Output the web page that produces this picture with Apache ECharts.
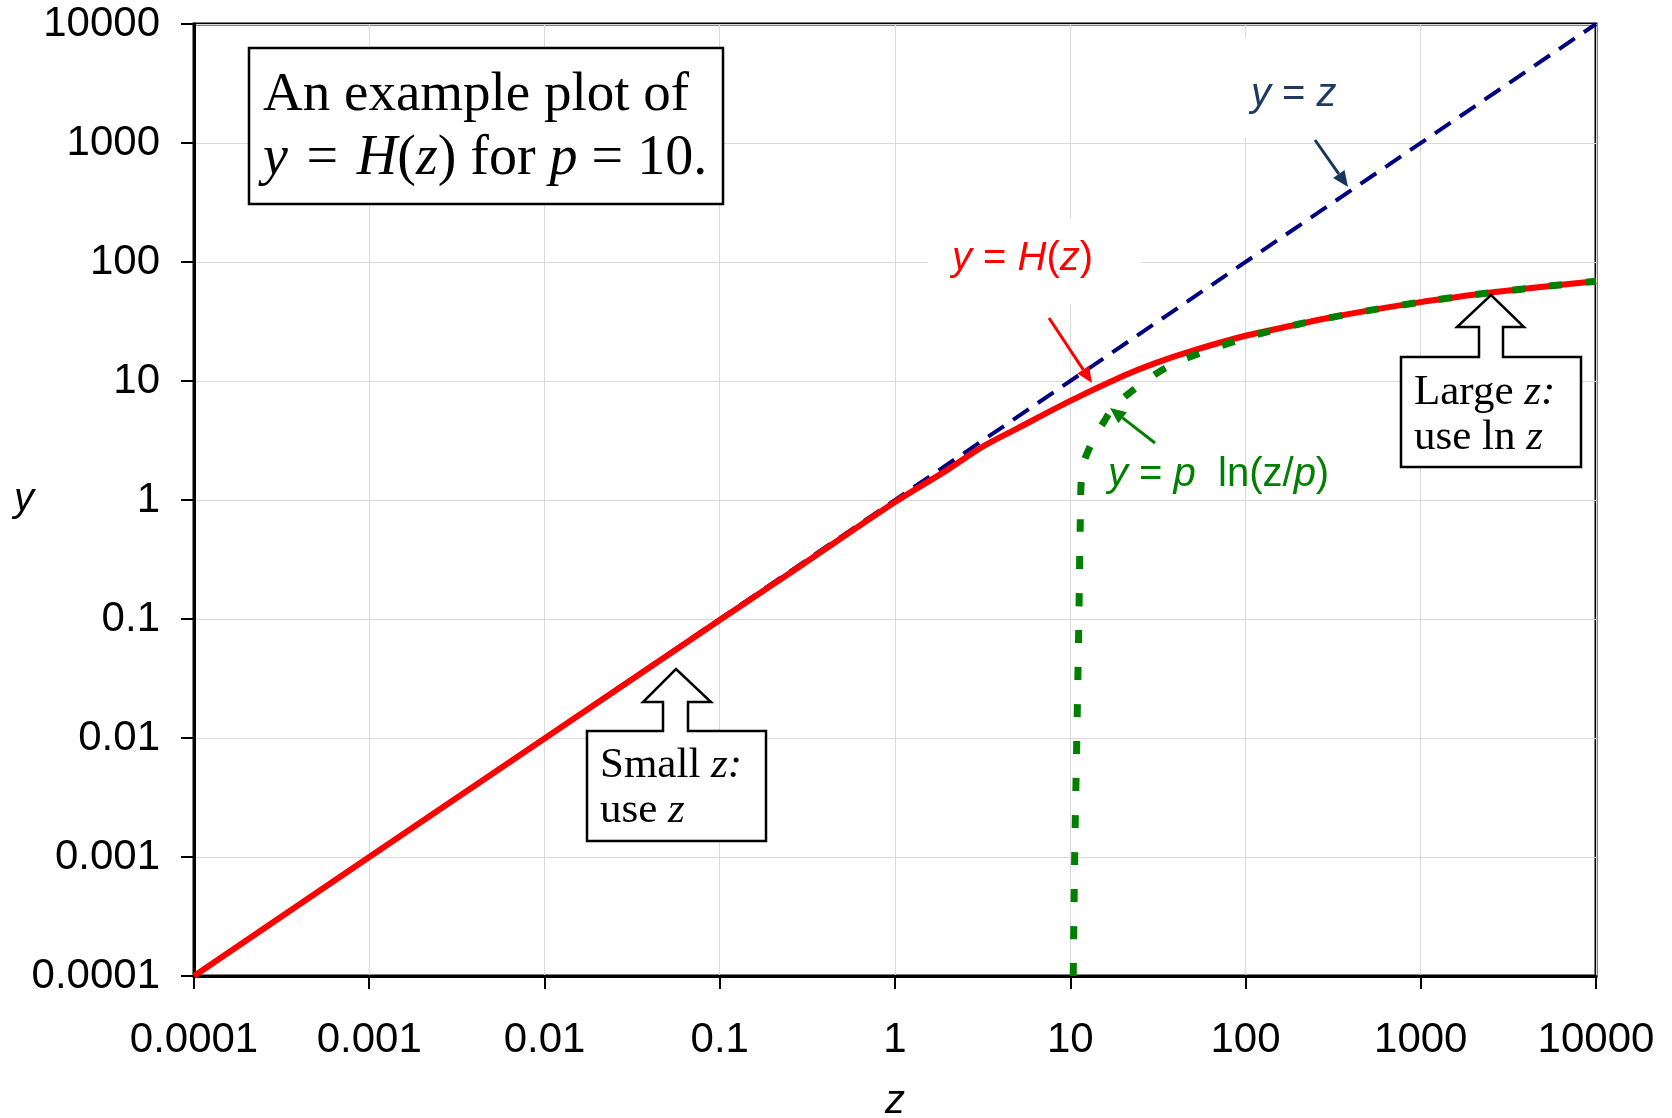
<!DOCTYPE html>
<html>
<head>
<meta charset="utf-8">
<title>y = H(z) for p = 10</title>
<script src="https://cdn.jsdelivr.net/npm/echarts@6/dist/echarts.min.js"></script>
<style>
	html, body { margin: 0; padding: 0; background: #ffffff; }
	#chart { width: 1672px; height: 1118px; }
</style>
</head>
<body>
<div id="chart"></div>
<script>
	// tick labels, one per decade
	var tickLabels = ['0.0001', '0.001', '0.01', '0.1', '1', '10', '100', '1000', '10000'];

	// y = z
	var idZ = [0.0001, 10000];
	var idY = [0.0001, 10000];

	// y = H(z)
	var hZ = [0.0001, 0.001, 0.01, 0.1, 0.3, 1, 2, 3.16, 5, 10, 20, 30, 50, 100, 200, 300, 500, 1000, 2000, 3000, 5000, 10000];
	var hY = [0.0001, 0.001, 0.0099, 0.098, 0.29, 0.96, 1.8, 2.8, 4.0, 6.8, 11, 14, 18, 24, 30, 34, 39, 46, 53, 57, 62, 69];

	// y = p ln(z/p)
	var lnZ = [10.4, 10.6, 10.9, 11.2, 11.4, 11.7, 13.5, 15.5, 18, 26.8, 41, 100, 200, 500, 1000, 2000, 5000, 10000];
	var lnY = [0.0001, 0.001, 0.01, 0.1, 0.6, 1.8, 3.2, 4.5, 6.2, 10, 14.5, 23, 30, 39, 46, 53, 62, 69];

	function pairs(xs, ys) {
		return xs.map(function(x, i) { return [x, ys[i]]; });
	}

	function decadeLabel(v) {
		return tickLabels[Math.round(Math.log10(v)) + 4];
	}

	function arrow(x1, y1, x2, y2, color) {
		var a = Math.atan2(y2 - y1, x2 - x1);
		var len = 16, half = 7;
		var bx = x2 - len * Math.cos(a), by = y2 - len * Math.sin(a);
		return [{
			type: 'line',
			shape: { x1: x1, y1: y1, x2: bx, y2: by },
			style: { stroke: color, lineWidth: 3 },
			z: 100
		}, {
			type: 'polygon',
			shape: { points: [[x2, y2],
				[bx + half * Math.sin(a), by - half * Math.cos(a)],
				[bx - half * Math.sin(a), by + half * Math.cos(a)]] },
			style: { fill: color },
			z: 100
		}];
	}

	var serif = '"Liberation Serif", "DejaVu Serif", serif';
	var sans = '"Liberation Sans", Arial, sans-serif';

	function serifText(x, y, text, size) {
		return {
			type: 'text', x: x, y: y, z: 102,
			style: {
				text: text, fill: '#000', fontFamily: serif, fontSize: size,
				verticalAlign: 'middle',
				rich: { i: { fontStyle: 'italic', fontFamily: serif, fontSize: size, fill: '#000' } }
			}
		};
	}

	function sansText(x, y, text, color) {
		return {
			type: 'text', x: x, y: y, z: 102,
			style: {
				text: text, fill: color, fontFamily: sans, fontSize: 40,
				verticalAlign: 'middle',
				rich: { i: { fontStyle: 'italic', fontFamily: sans, fontSize: 40, fill: color } }
			}
		};
	}

	var graphics = [
		// white patches behind the curve labels
		{ type: 'rect', shape: { x: 1185, y: 38, width: 193, height: 100 }, style: { fill: '#fff' }, z: 90 },
		{ type: 'rect', shape: { x: 928, y: 219, width: 213, height: 85 }, style: { fill: '#fff' }, z: 90 },

		// title box
		{ type: 'rect', shape: { x: 249, y: 48, width: 474, height: 156 },
		  style: { fill: '#fff', stroke: '#000', lineWidth: 2.5 }, z: 101 },
		serifText(263, 96, 'An example plot of', 55),
		serifText(263, 159, '{i|y}\u2004=\u2004{i|H}({i|z}) for {i|p} = 10.', 56),

		// "Small z" callout
		{ type: 'polygon', z: 101,
		  shape: { points: [[587, 731], [663, 731], [663, 702], [643, 702], [676, 669], [711, 702],
			[688, 702], [688, 731], [766, 731], [766, 841], [587, 841]] },
		  style: { fill: '#fff', stroke: '#000', lineWidth: 2.5 } },
		serifText(600, 766, 'Small {i|z:}', 43),
		serifText(600, 811, 'use {i|z}', 43),

		// "Large z" callout
		{ type: 'polygon', z: 101,
		  shape: { points: [[1401, 357], [1479, 357], [1479, 327], [1457, 327], [1491, 295], [1524, 327],
			[1503, 327], [1503, 357], [1581, 357], [1581, 467], [1401, 467]] },
		  style: { fill: '#fff', stroke: '#000', lineWidth: 2.5 } },
		serifText(1414, 393, 'Large {i|z:}', 43),
		serifText(1414, 438, 'use ln {i|z}', 43),

		// curve labels
		sansText(1251, 95, '{i|y} = {i|z}', '#1f3a60'),
		sansText(952, 259, '{i|y} = {i|H}({i|z})', '#ff0000'),
		sansText(1108, 475, '{i|y} = {i|p}  ln(z/{i|p})', '#008000')
	]
	.concat(arrow(1315, 140, 1348, 187, '#17365d'))
	.concat(arrow(1049, 318, 1092, 383, '#ff0000'))
	.concat(arrow(1155, 443, 1110, 408, '#008000'));

	var chart = echarts.init(document.getElementById('chart'));

	chart.setOption({
		backgroundColor: '#ffffff',
		animation: false,
		grid: {
			left: 194, right: 76, top: 24, bottom: 142,
			containLabel: false, outerBoundsMode: 'none',
			show: true, borderColor: '#000', borderWidth: 3
		},
		xAxis: {
			type: 'log', logBase: 10, min: 0.0001, max: 10000, splitNumber: 8,
			name: 'z', nameLocation: 'middle', nameGap: 106,
			nameTextStyle: { fontFamily: sans, fontStyle: 'italic', fontSize: 40, color: '#000' },
			axisLine: { lineStyle: { color: '#000', width: 3 } },
			axisTick: { show: true, length: 13, lineStyle: { color: '#000', width: 2 } },
			axisLabel: { formatter: decadeLabel, margin: 43, fontFamily: sans, fontSize: 42, color: '#000' },
			splitLine: { show: true, lineStyle: { color: '#dadada', width: 1 } },
			minorTick: { show: false }
		},
		yAxis: {
			type: 'log', logBase: 10, min: 0.0001, max: 10000, splitNumber: 8,
			name: 'y', nameLocation: 'middle', nameGap: 170, nameRotate: 0, nameMoveOverlap: false,
			nameTextStyle: { fontFamily: sans, fontStyle: 'italic', fontSize: 40, color: '#000', align: 'center' },
			axisLine: { lineStyle: { color: '#000', width: 3 } },
			axisTick: { show: true, length: 13, lineStyle: { color: '#000', width: 2 } },
			axisLabel: { formatter: decadeLabel, margin: 34, fontFamily: sans, fontSize: 42, color: '#000' },
			splitLine: { show: true, lineStyle: { color: '#dadada', width: 1 } }
		},
		series: [{
			name: 'y = z',
			type: 'line',
			data: pairs(idZ, idY),
			showSymbol: false,
			lineStyle: { color: '#000080', width: 4, type: [19, 11] },
			z: 2
		}, {
			name: 'y = H(z)',
			type: 'line',
			data: pairs(hZ, hY),
			showSymbol: false,
			smooth: 0.3,
			lineStyle: { color: '#ff0000', width: 6 },
			z: 3
		}, {
			name: 'y = p ln(z/p)',
			type: 'line',
			data: pairs(lnZ, lnY),
			showSymbol: false,
			smooth: 0.3,
			lineStyle: { color: '#008000', width: 7, type: [13, 24] },
			z: 4
		}],
		graphic: graphics
	});
</script>
</body>
</html>
